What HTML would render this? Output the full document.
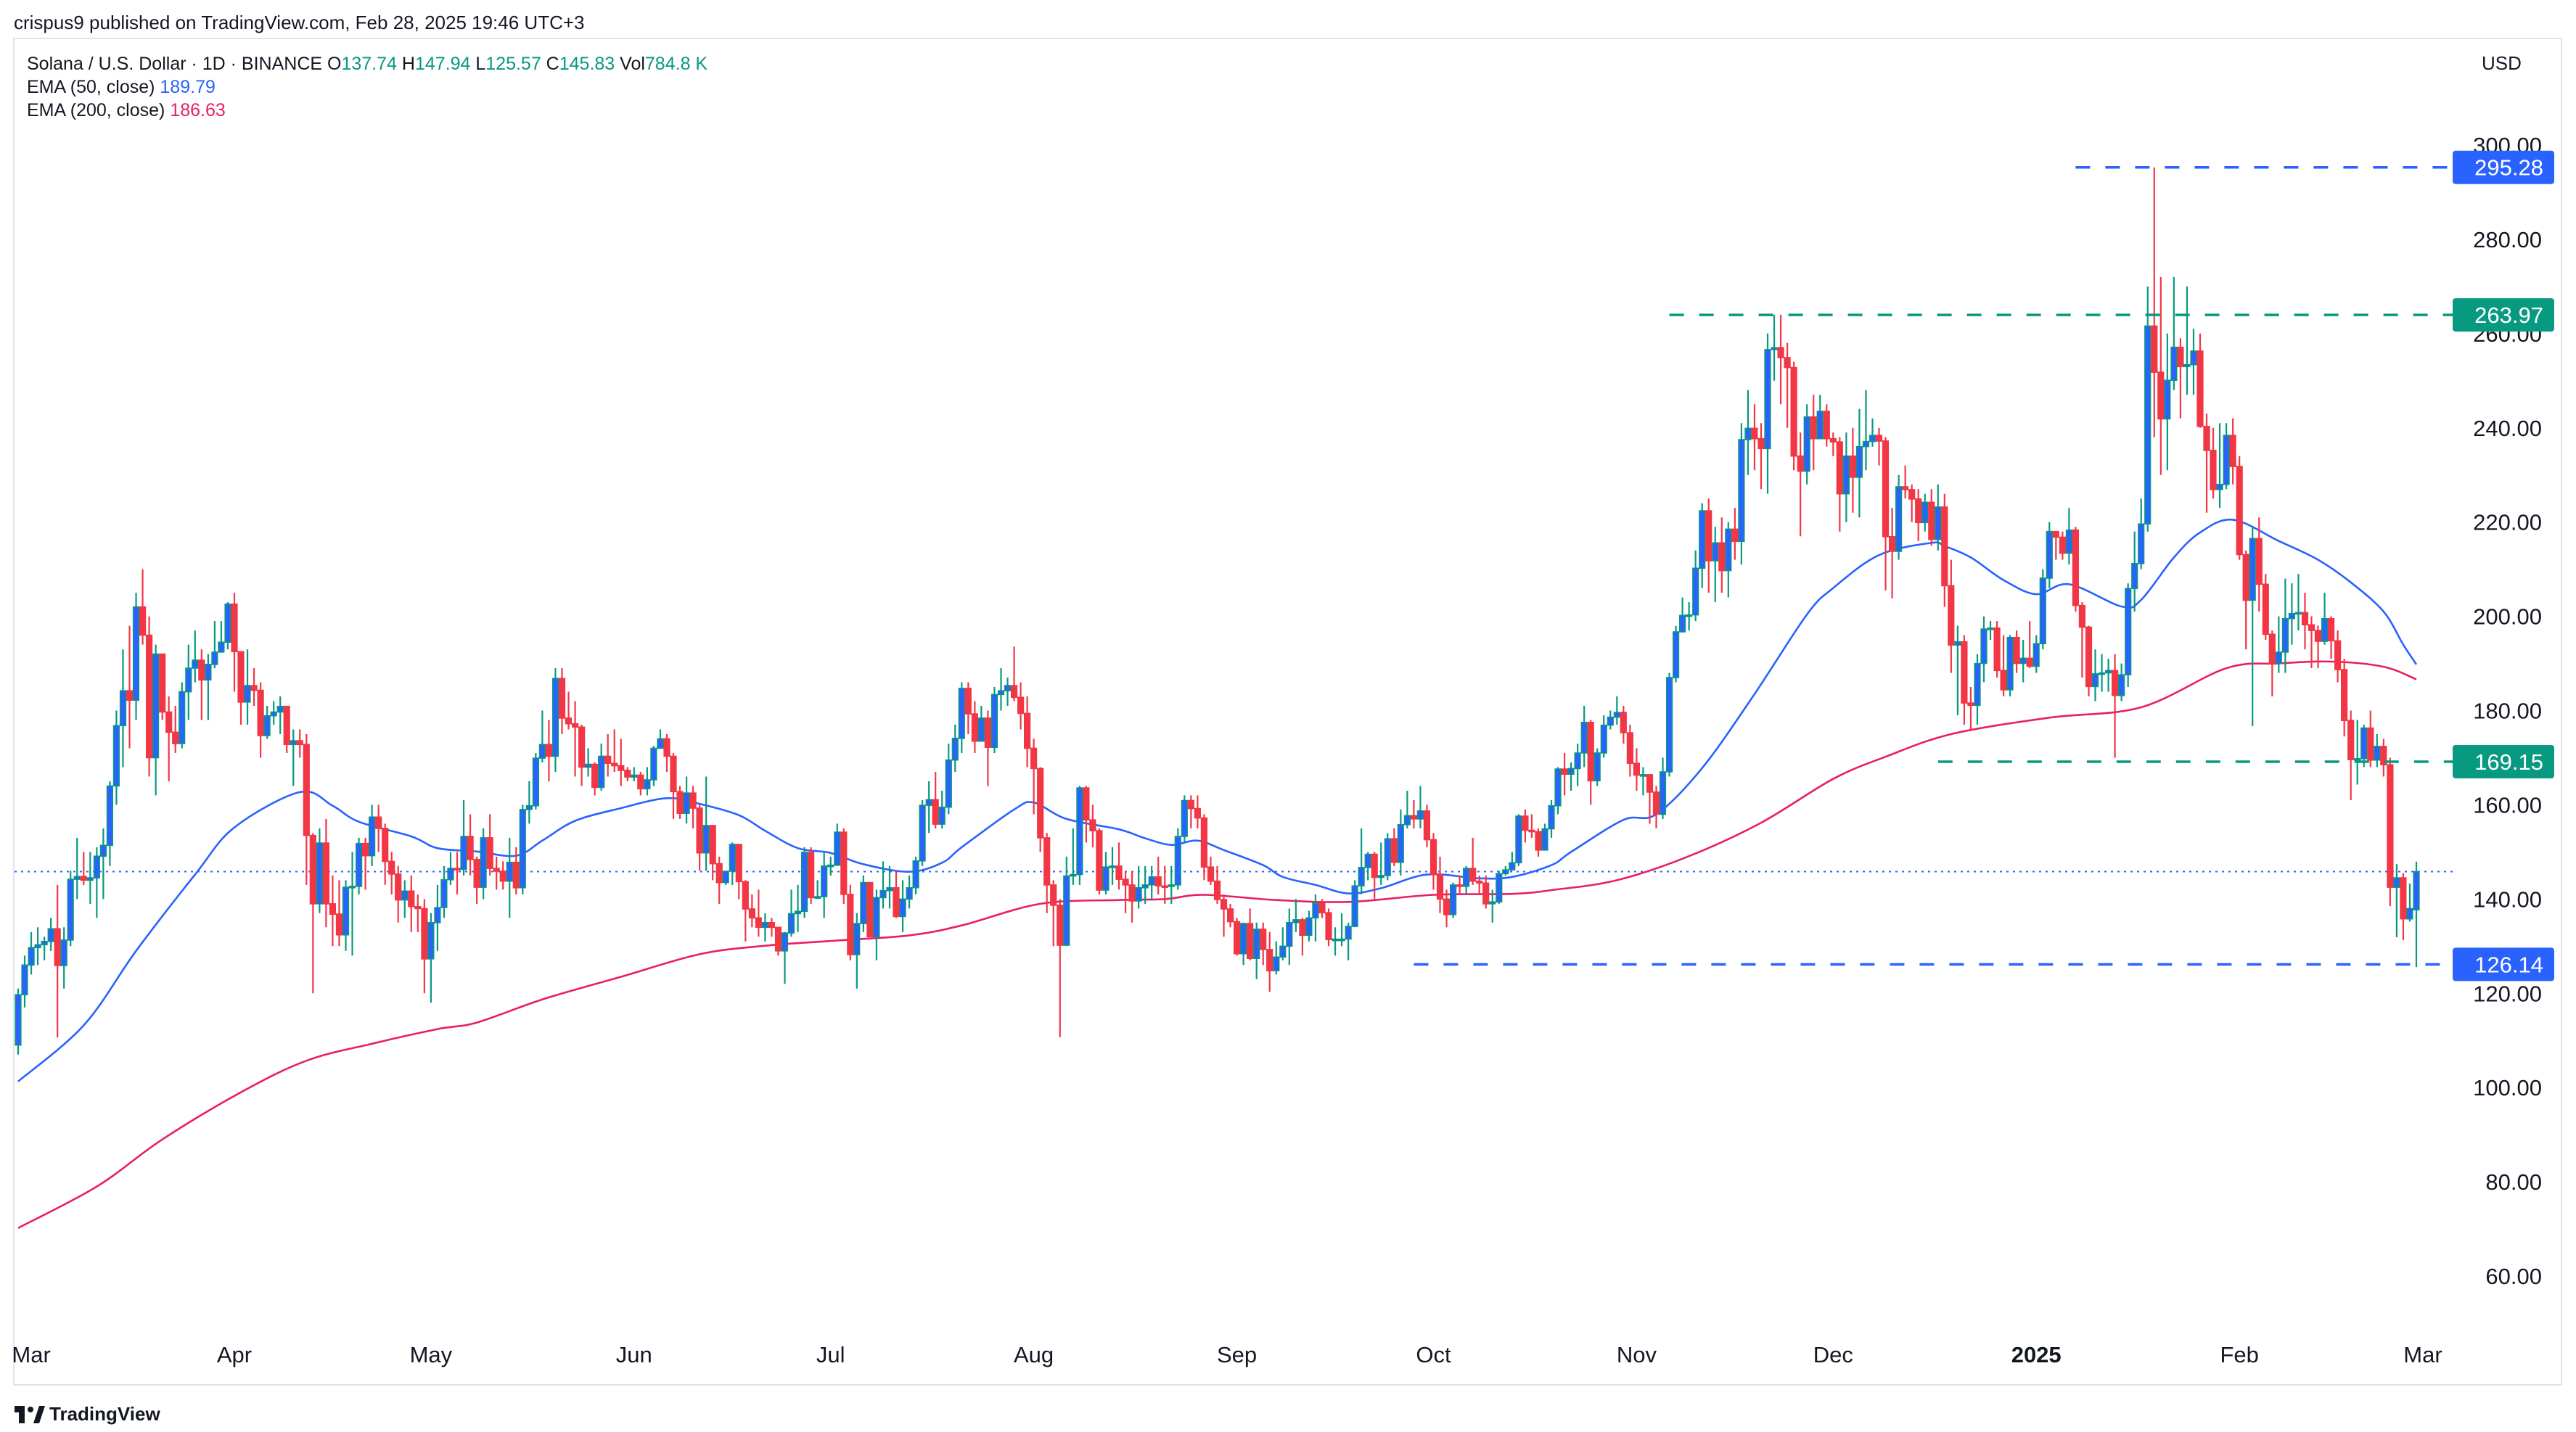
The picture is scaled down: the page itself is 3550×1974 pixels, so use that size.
<!DOCTYPE html>
<html>
<head>
<meta charset="utf-8">
<style>
html,body{margin:0;padding:0;background:#fff;}
svg{display:block;font-family:"Liberation Sans",sans-serif;}
</style>
</head>
<body>
<svg id="chart" width="3550" height="1974" viewBox="0 0 3550 1974" xmlns="http://www.w3.org/2000/svg">
  <rect width="3550" height="1974" fill="#ffffff"/>
  <text x="19" y="40" font-size="26" fill="#131722">crispus9 published on TradingView.com, Feb 28, 2025 19:46 UTC+3</text>
  <rect x="19" y="53" width="3511" height="1856" fill="none" stroke="#e0e3eb" stroke-width="2"/>
  <text x="37" y="96" font-size="25" fill="#131722">Solana / U.S. Dollar · 1D · BINANCE  <tspan>O</tspan><tspan fill="#089981">137.74</tspan>  H<tspan fill="#089981">147.94</tspan>  L<tspan fill="#089981">125.57</tspan>  C<tspan fill="#089981">145.83</tspan>  Vol<tspan fill="#089981">784.8 K</tspan></text>
  <text x="37" y="128" font-size="25" fill="#131722">EMA (50, close)  <tspan fill="#2962ff">189.79</tspan></text>
  <text x="37" y="160" font-size="25" fill="#131722">EMA (200, close)  <tspan fill="#e91e63">186.63</tspan></text>
  <text x="3420" y="96" font-size="26" fill="#131722">USD</text>
  <g id="yaxis"></g>
  <g id="xaxis"></g>
  <defs><clipPath id="plotclip"><rect x="20" y="54" width="3360" height="1790"/></clipPath></defs>
  <g id="plot" clip-path="url(#plotclip)"></g>
  <g id="badges"></g>
  <g>
    <rect x="20" y="1938" width="14" height="9" fill="#131722"/>
    <rect x="26" y="1938" width="8" height="24" fill="#131722"/>
    <circle cx="42" cy="1943" r="4" fill="#131722"/>
    <path d="M46 1962 L54 1938 L62 1938 L54 1962 Z" fill="#131722"/>
    <text x="68" y="1958" font-size="26" font-weight="bold" fill="#131722">TradingView</text>
  </g>
</svg>
<script>
// ---- data ----
const firstOpen = 109;
const lastOpen = 137.74;
const closes = [119.7,126,129.7,130.3,131,133.7,125.9,131.3,144.2,144.8,144,144.5,149.1,151.4,164,176.8,184.2,182.2,202,196,170,192,179.7,175.4,173,184,189,190.7,186.5,189.8,192.4,194.5,202.6,192.5,181.8,185.3,184.3,174.7,178.9,179.7,180.9,172.8,173.6,172.8,153.5,139,151.9,139,136.8,132.4,142.5,142.7,151.8,149.2,157.4,155,148,145.3,139.8,141.7,138.4,138,127.3,135,
138.2,144.1,146.5,146.3,153.3,148.4,142.5,153,146.5,145.9,143.8,147.8,142.4,159,159.8,169.9,172.8,170.3,186.8,178.4,177.2,176.5,168,168.6,163.7,170.3,168.8,168.3,167.3,165.9,166.3,163.4,165.3,172,174,170.3,162.8,158.2,162.5,159.3,149.8,155.6,147.5,143.5,145.9,151.6,143.7,137.9,136,134,135,
134,129,132.8,136.9,137.4,149.9,140.3,140.5,147,147.2,154.2,141,128.2,134.8,143.5,132,140.3,141.8,142.4,136.3,140,142.4,148.1,159.9,161.1,155.9,159.5,169.5,174.1,184.7,179.3,173.5,178.4,172.2,183.4,184.2,185.3,182.8,179.4,172,167.7,153,143,138.7,130.2,144.9,145.2,163.6,156.8,154.5,141.9,146.8,147,144.2,143,139.6,142.4,143,144.7,142.8,
142.7,143,153.3,160.9,159.2,157.2,146.8,143.8,139.9,137.9,135.2,128.4,134.8,127.4,133.6,129.3,124.8,127.7,130,135,135.6,132.3,136,139.1,137.1,131.4,131.5,131.5,134.2,142.8,146.7,149.5,144.6,145,152.8,147.8,155.8,157.7,157,158.7,152.6,145.2,140,136.7,143,142.7,146.5,143.8,143.4,139,139.4,145.4,146.2,147.7,157.6,154.6,154.3,150.4,154.9,159.8,
167.6,166.5,167.7,171,177.5,165.1,171,176.9,178.6,179.6,175.3,168.8,166.3,166.4,162.7,158,167,187,196.7,200.2,200.3,210.2,222.4,211.8,215.6,209.7,218.5,215.9,237.5,239.9,237.7,235.6,256.6,257,254.9,252.8,234,230.8,242.3,237.7,243.5,237.7,237,226,234,229.5,236,237.1,238.4,237.2,216.9,213.8,227.5,226.9,224.9,219.9,224.2,216.3,223.2,206.5,193.9,
194.6,181.6,181.1,190,197.3,197.5,188.5,184.4,195.5,190,191.1,189.4,194.2,208.1,218,216.8,213.4,218.3,202.3,197.7,185.1,187.8,188,188.5,183.2,187.6,205.9,211.2,219.6,261.6,251.8,241.9,250.1,257.1,253,253.4,256.3,240.3,235.2,226.9,228,238.4,231.8,213.1,203.4,216.5,206.8,196.2,190,192.4,199.5,200.6,200.8,198.2,197,194.7,199.5,194.8,188.7,177.9,169.6,169.8,176.3,169.5,172.4,168.5,142.5,144.5,135.8,138,145.83];
const highs = [121,128,133,134,132,136,143,134,146,153,150,150,151,155,165,180,193,198,205,210,200,194,192,183,181,186,194,197,193,192,199,199,203,205,192,193,189,186,181,182,183,181,176,176,175,154,155,157,145,144,144,150,153,153,160,160,156,150,147,144,145,141,140,137,
143,147,150,150,161,158,149,155,158,149,148,153,151,160,165,171,180,178,189,189,184,182,177,172,169,173,175,176,174,168,168,167,168,172.5,176,175,171,164,166,164,160,166,155,149,146,152,151,144,141,142,137,
136,134,133,142,143,151,151,144,150,149,156,155,143,137,145,143,142,148,147,146,144,145,149,161,165,167,163,173,177,186,186,182,181,180,185,189,187,193.6,186,183,174,168,154,144,140,149,155,164,164,160,155,150,151,152,146,146,147,147,147,149,
147,147,155,162,162,162,158,149,147,141,139,136,135,138,135,135,133,131,134,138,140,136,137.5,141,140,138,134,137,135,144,155,150,150,152,154,155,159,163,161,164,160,154,149,142,143.5,145,147,153,145,145,142,146,147,150,158,159,158,155,156,161,
168,171,169,173,181,178,172,179,180,183,181,177,172,168,165,164,170,188,198,204,203,214,224,225,219,221,220,223,241,248,245,241,260,264,264,258,254,239,245,247,247,245,239,238,239,240,244,248,242,240,238,223,230,232,228,227,226,227,228,226,212,
198,196,185,192,200,199,199,196,196,197,195,199,196,210,220,218,218,223,219,203,198,193,192,191,192,190,207,218,225,270,295.28,272,260,272,259,270,261,260,243,240,241,241,242,234,214,219,221,209,197,200,208,207,209,205,200,198,205,200,197,191,180,178,177,180,175,174,170,147.4,145.5,143.3,147.94];
const lows = [107,117,124,126,127,129,110.6,121,130,140,143,139,136,140,147,160,168,172,178,194,166,162,178,165,171,172,178,186,178,178,189,193,193,184,177,177,181,170,174,177,175,171,164,170,143,120,137,134,130,130,129,128,141,142,147,150,143,141,135,136,133,133,120,118,
129,136,143,141,145,145,139,140,145,142,142,136,141,141,156,159,169,165,167,175,176,166,164,166,162,163,166,167,164,165,165,162,162,164,173,167,157,157,156,155,146,146,144,139,143,143,140,131,134,132,131,
132,128,122,132,133,136,139,140,136,145,147,139,127,121,133,132,127,138,138,136,133,138,141,147,154,155,155,158,167,171,175,171,174,164,171,180,181,182,176,168,158,150,137,130,110.7,130,143,143,152,151,141,141,143,142,137,135,138,139,140,141,
139,139,142,152,155,155,144,143,139,132,134,128,126,127,123,126,120.3,124,127,126,133,128,131,131,136,130,128,130,127,134,141,144,140,143,144,147,145,155,155,155,151,142,137,134,136,141,141,143,141,138,135,139,145,146,147,152,153,149,151,153,
158,162,163,164,168,160,164,170,176,177,173,166,163,162,156,155,157,166,186,199,197,199,206,205,203,205,204,212,211,230,231,227,226,250,245,240,231,217,228,231,240,236,234,218,220,222,221,231,236,232,205.5,203.8,212,225,220,216,218,215,214,202,188,
179,177,176,177,186,195,187,183,183,188,186,189,188,193,206,212,212,211,201,187,183,182,184,184,170,182,185,201,210,218,238,230,231,248,242,247,247,240,222,225,223,227,228,212,193,176.7,201,195,183,188,188,194,197,193,189,189,194,191,186,174.5,161,164.3,168,168,168,166,138.5,131.9,131.3,135.2,125.57];
const ema50Idx = [0,10,18,27,33,43,48,52,60,64,70,76,80,85,92,99,104,110,114,119,124,129,136,141,144,152,155,160,168,172,176,180,184,190,193,198,203,208,215,223,228,234,237,245,250,257,265,273,277,284,292,294,298,303,308,313,321,324,329,333,338,345,351,356,361,364,366];
const ema50Val = [101.3,113.2,129,145.2,155.2,162.7,159.8,156.4,153.3,150.8,150.1,149.2,152.4,156.6,159.3,161.4,160.2,157.8,154.5,150.8,149.8,147.4,145.8,147.7,151,159,160.5,157,154.8,152.9,151.5,152.4,150.4,147.2,144.7,143,141.2,142.3,145.2,144.4,144.7,147.2,150,156.8,158,167.8,183.5,200.4,206,213,215.6,214.9,212.5,207.7,204.7,206.8,202.1,203.5,212.5,217.8,220.5,216,212,207.2,201,194,189.79];
const ema200Idx = [0,12,22,34,44,54,64,70,80,92,104,114,125,136,144,156,168,175,181,192,203,216,228,234,244,255,266,277,285,295,310,324,337,345,353,361,366];
const ema200Val = [70.2,79,89,99,105.7,109.3,112.4,113.8,118.7,123.5,128.3,130.1,131.2,132.3,134.4,139,139.8,140,140.9,139.8,139.4,140.9,141.1,141.9,144,149.1,156.2,165.5,170.2,175,178.5,180.7,189,190,190.4,189.3,186.63];
const priceTicks = [300,280,260,240,220,200,180,160,140,120,100,80,60];
const monthLabels = ["Mar","Apr","May","Jun","Jul","Aug","Sep","Oct","Nov","Dec","2025","Feb","Mar"];
const monthIdx = [2,33,63,94,124,155,186,216,247,277,308,339,367];
const levelPrices = [295.28,263.97,169.15,126.14];
const levelStartIdx = [314,252,293,213];
const levelColors = ["#2962ff","#089981","#089981","#2962ff"];
const lastPrice = 145.83;

// ---- scales ----
const X0 = 25, DX = 9.03;
function xOf(i){ return X0 + DX*i; }
const Y0 = 200, PY = 6.496;
function yOf(p){ return Y0 + (300 - p)*PY; }

const NS = "http://www.w3.org/2000/svg";
function mk(tag, attrs, parent){
  const e = document.createElementNS(NS, tag);
  for (const k in attrs) e.setAttribute(k, attrs[k]);
  parent.appendChild(e);
  return e;
}
const plot = document.getElementById('plot');
const yaxis = document.getElementById('yaxis');
const xaxis = document.getElementById('xaxis');
const badges = document.getElementById('badges');

priceTicks.forEach(function(p){
  const t = mk('text', {x:3503, y:(yOf(p)+11).toFixed(1), 'font-size':31, fill:'#131722', 'text-anchor':'end'}, yaxis);
  
  
  t.textContent = p.toFixed(2);
});
monthLabels.forEach(function(m, k){
  const t = mk('text', {x:xOf(monthIdx[k]).toFixed(1), y:1878, 'font-size':31, fill:'#131722', 'text-anchor':'middle', 'font-weight': m==="2025" ? 'bold' : 'normal'}, xaxis);
  
  
  t.textContent = m;
});

const dl = mk('line', {x1:20, x2:3380, y1:yOf(lastPrice), y2:yOf(lastPrice), stroke:'#2962ff', 'stroke-width':2, 'stroke-dasharray':'3 6'}, plot);



function lineFrom(idx, vals, color, name){
  const P = idx.map(function(i, k){ return [xOf(i), yOf(vals[k])]; });
  let d = 'M' + P[0][0].toFixed(1) + ' ' + P[0][1].toFixed(1);
  for (let k = 0; k < P.length - 1; k++){
    const p0 = P[Math.max(k-1,0)], p1 = P[k], p2 = P[k+1], p3 = P[Math.min(k+2,P.length-1)];
    const c1x = p1[0] + (p2[0]-p0[0])/6, c1y = p1[1] + (p2[1]-p0[1])/6;
    const c2x = p2[0] - (p3[0]-p1[0])/6, c2y = p2[1] - (p3[1]-p1[1])/6;
    d += ' C' + c1x.toFixed(1)+' '+c1y.toFixed(1)+' '+c2x.toFixed(1)+' '+c2y.toFixed(1)+' '+p2[0].toFixed(1)+' '+p2[1].toFixed(1);
  }
  const pl = mk('path', {d:d, fill:'none', stroke:color, 'stroke-width':2.6, 'stroke-linejoin':'round'}, plot);
  
  
}
lineFrom(ema200Idx, ema200Val, '#e91e63', 'ema200-line');
lineFrom(ema50Idx, ema50Val, '#2962ff', 'ema50-line');

closes.forEach(function(c, i){
  let o = i === 0 ? firstOpen : closes[i-1];
  if (i === closes.length-1) o = lastOpen;
  const up = c >= o;
  const x = xOf(i);
  const wickColor = up ? '#089981' : '#f23645';
  const g = mk('g', {}, plot);
  
  
  mk('line', {x1:x, x2:x, y1:yOf(highs[i]).toFixed(1), y2:yOf(lows[i]).toFixed(1), stroke:wickColor, 'stroke-width':2.2}, g);
  const top = yOf(Math.max(o,c)), bot = yOf(Math.min(o,c));
  const h = Math.max(bot-top, 2);
  mk('rect', {x:(x-3.8).toFixed(1), y:top.toFixed(1), width:7.6, height:h.toFixed(1), fill: up ? '#2962ff' : '#f23645', stroke: up ? '#089981' : '#f23645', 'stroke-width':1.6}, g);
});

levelPrices.forEach(function(p, k){
  const ln = mk('line', {x1:xOf(levelStartIdx[k]).toFixed(1), x2:3380, y1:yOf(p).toFixed(1), y2:yOf(p).toFixed(1), stroke:levelColors[k], 'stroke-width':3.5, 'stroke-dasharray':'20 21'}, plot);
  
  
  const r = mk('rect', {x:3380, y:(yOf(p)-23).toFixed(1), width:140, height:46, rx:4, fill:levelColors[k]}, badges);
  
  
  const t = mk('text', {x:3505, y:(yOf(p)+11).toFixed(1), 'font-size':31, fill:'#ffffff', 'text-anchor':'end'}, badges);
  
  
  t.textContent = p.toFixed(2);
});
</script>
</body>
</html>
